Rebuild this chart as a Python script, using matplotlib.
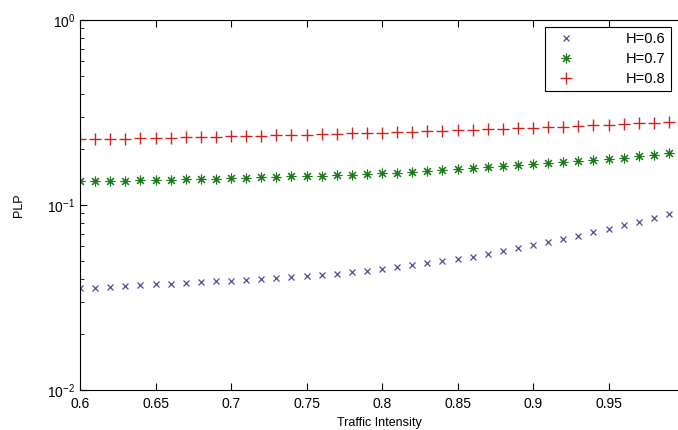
import numpy as np
import matplotlib
matplotlib.use("Agg")
import matplotlib.pyplot as plt

plt.rcParams['font.family'] = ['Liberation Sans', 'DejaVu Sans']

# traffic intensity 0.60 .. 0.99
rho = [0.60, 0.61, 0.62, 0.63, 0.64, 0.65, 0.66, 0.67, 0.68, 0.69,
       0.70, 0.71, 0.72, 0.73, 0.74, 0.75, 0.76, 0.77, 0.78, 0.79,
       0.80, 0.81, 0.82, 0.83, 0.84, 0.85, 0.86, 0.87, 0.88, 0.89,
       0.90, 0.91, 0.92, 0.93, 0.94, 0.95, 0.96, 0.97, 0.98, 0.99]

plp_h06 = [0.0355, 0.0358, 0.0362, 0.0365, 0.0369, 0.0372, 0.0375, 0.0379, 0.0383, 0.0387,
           0.0390, 0.0394, 0.0399, 0.0404, 0.0409, 0.0414, 0.0420, 0.0426, 0.0432, 0.0440,
           0.0450, 0.0460, 0.0471, 0.0483, 0.0496, 0.0510, 0.0526, 0.0544, 0.0563, 0.0584,
           0.0606, 0.0630, 0.0655, 0.0682, 0.0711, 0.0742, 0.0775, 0.0810, 0.0848, 0.0890]

plp_h07 = [0.134, 0.1345, 0.135, 0.1355, 0.136, 0.1366, 0.1372, 0.1378, 0.1384, 0.139,
           0.1397, 0.1404, 0.1411, 0.1418, 0.1426, 0.1434, 0.1442, 0.145, 0.1459, 0.1468,
           0.1482, 0.1497, 0.1512, 0.1528, 0.1545, 0.1562, 0.158, 0.1598, 0.1617, 0.1637,
           0.1658, 0.168, 0.1703, 0.1727, 0.1752, 0.1778, 0.1805, 0.1834, 0.1866, 0.1905]

plp_h08 = [0.226, 0.2268, 0.2276, 0.2284, 0.2292, 0.230, 0.2309, 0.2318, 0.2327, 0.2336,
           0.2346, 0.2356, 0.2366, 0.2377, 0.2388, 0.2399, 0.2411, 0.2423, 0.2435, 0.2448,
           0.2461, 0.2474, 0.2488, 0.2502, 0.2517, 0.2532, 0.2548, 0.2564, 0.2581, 0.2598,
           0.2616, 0.2635, 0.2654, 0.2674, 0.2695, 0.2716, 0.2738, 0.2761, 0.2785, 0.2815]

fig = plt.figure(figsize=(6.78, 4.30), dpi=100)
ax = fig.add_axes([0.118, 0.093, 0.882, 0.8605])

ax.semilogy(rho, plp_h06, 'x', color='#4d4d99', ms=5, mew=0.9, label='H=0.6')
ax.semilogy(rho, plp_h07, marker=(8, 2, 0), ls='none', color='#1a7a1a', ms=7, mew=0.8, label='H=0.7')
ax.semilogy(rho, plp_h08, '+', color='#cc2222', ms=9, mew=1.0, label='H=0.8')

ax.set_xlim(0.6, 0.996)
ax.set_ylim(1e-2, 1)
ax.set_xticks([0.6, 0.65, 0.7, 0.75, 0.8, 0.85, 0.9, 0.95])
ax.set_xticklabels(['0.6', '0.65', '0.7', '0.75', '0.8', '0.85', '0.9', '0.95'])
ax.tick_params(which='both', direction='in', top=True, right=False, labelsize=10)
ax.tick_params(which='major', length=5)
ax.tick_params(which='minor', length=3)
ax.tick_params(axis='x', pad=5)
ax.spines['right'].set_visible(False)

ax.set_xlabel('Traffic Intensity', fontsize=9, labelpad=4)
ax.set_ylabel('PLP', fontsize=9, labelpad=16)

leg = ax.legend(loc='upper right', fontsize=10.5, fancybox=False, edgecolor='black',
                framealpha=1, borderaxespad=0.5, handletextpad=3.0, handlelength=2.2,
                labelspacing=0.4, borderpad=0.35)
leg.get_frame().set_linewidth(0.8)

fig.savefig('out.png', dpi=100)
